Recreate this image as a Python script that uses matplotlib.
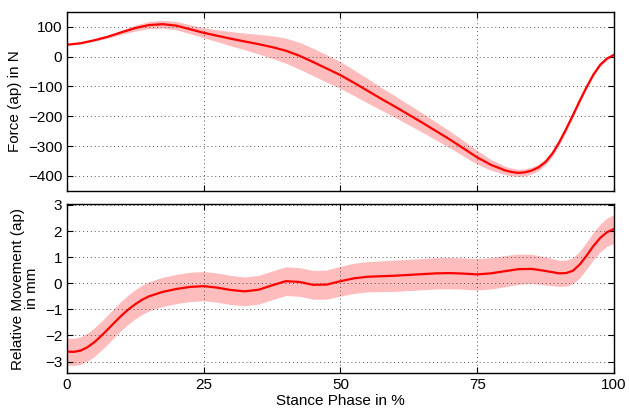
import numpy as np
import matplotlib.pyplot as plt

plt.rcParams['font.family'] = ['Liberation Sans', 'DejaVu Sans']

# force (ap): stance phase in %, mean and spread in N
force_phase = [0, 2.5, 5, 7.5, 10, 12.5, 15, 17.5, 20, 22.5, 25, 27.5, 30, 32.5, 35,
               37.5, 40, 42.5, 45, 47.5, 50, 52.5, 55, 57.5, 60, 62.5, 65, 67.5, 70,
               72.5, 75, 77.5, 80, 81.25, 82.5, 83.75, 85, 86.25, 87.5, 88.75, 90,
               91.25, 92.5, 93.75, 95, 96.25, 97.5, 98.75, 100]
force_mean = [40, 45, 55, 67, 82, 96, 106, 109, 104, 92, 80, 70, 60, 51, 42,
              32, 20, 3, -18, -40, -62, -88, -115, -142, -168, -195, -222, -250, -278,
              -308, -338, -363, -381, -387, -390, -388, -382, -371, -353, -325, -287,
              -243, -196, -148, -102, -60, -27, -6, 6]
force_sd = [2, 2, 3, 5, 7, 10, 12, 13, 14, 15, 17, 20, 24, 28, 33,
            38, 42, 45, 46, 46, 45, 43, 41, 38, 36, 34, 32, 30, 28,
            26, 23, 18, 14, 13, 12, 12, 11, 11, 10, 10, 9,
            9, 8, 7, 6, 6, 5, 5, 4]

# relative movement (ap): stance phase in %, mean and spread in mm
move_phase = [0, 1.25, 2.5, 3.75, 5, 6.25, 7.5, 8.75, 10, 11.25, 12.5, 13.75, 15, 17.5,
              20, 22.5, 25, 27.5, 30, 32.5, 35, 37.5, 40, 42.5, 45, 47.5, 50, 52.5,
              55, 57.5, 60, 62.5, 65, 67.5, 70, 72.5, 75, 77.5, 80, 82.5, 85, 87.5,
              90, 91.25, 92.5, 93.75, 95, 96.25, 97.5, 98.75, 100]
move_mean = [-2.62, -2.63, -2.58, -2.45, -2.26, -2.02, -1.76, -1.49, -1.23, -1.0,
             -0.8, -0.63, -0.5, -0.33, -0.22, -0.14, -0.11, -0.17, -0.26, -0.31,
             -0.25, -0.08, 0.08, 0.05, -0.06, -0.05, 0.08, 0.19, 0.25, 0.27, 0.29,
             0.32, 0.35, 0.38, 0.39, 0.37, 0.34, 0.38, 0.46, 0.54, 0.55, 0.47,
             0.38, 0.39, 0.48, 0.72, 1.06, 1.43, 1.74, 1.96, 2.08]
move_sd = [0.52, 0.52, 0.53, 0.54, 0.55, 0.55, 0.56, 0.56, 0.56, 0.56,
           0.56, 0.56, 0.56, 0.56, 0.56, 0.56, 0.56, 0.56, 0.56, 0.55,
           0.55, 0.55, 0.55, 0.55, 0.55, 0.56, 0.57, 0.58, 0.58, 0.59, 0.6,
           0.6, 0.6, 0.6, 0.6, 0.6, 0.6, 0.6, 0.6, 0.58, 0.56, 0.54,
           0.5, 0.5, 0.5, 0.51, 0.52, 0.52, 0.53, 0.54, 0.55]


def style(ax, yticks):
    ax.set_xlim(0, 100)
    ax.set_xticks([0, 25, 50, 75, 100])
    ax.set_yticks(yticks)
    ax.grid(True, linestyle=(0, (1, 3)), color='#555555', linewidth=0.7)
    ax.tick_params(direction='in', top=True, right=True, labelsize=11, length=4)
    for s in ax.spines.values():
        s.set_linewidth(1.0)


def main():
    fig = plt.figure(figsize=(6.29, 4.12), dpi=100)
    ax1 = fig.add_axes([0.1065, 0.537, 0.8696, 0.434])
    ax2 = fig.add_axes([0.1065, 0.094, 0.8696, 0.411])

    fx = np.array(force_phase)
    fm = np.array(force_mean)
    fs = np.array(force_sd)
    ax1.fill_between(fx, fm - fs, fm + fs, color='#ffbcbc', linewidth=0)
    ax1.plot(fx, fm, color='#ff0000', linewidth=1.6)
    style(ax1, [-400, -300, -200, -100, 0, 100])
    ax1.set_ylim(-450, 150)
    ax1.set_xticklabels([])
    ax1.set_ylabel('Force (ap) in N', fontsize=11)

    mx = np.array(move_phase)
    mm = np.array(move_mean)
    ms = np.array(move_sd)
    ax2.fill_between(mx, mm - ms, mm + ms, color='#ffbcbc', linewidth=0)
    ax2.plot(mx, mm, color='#ff0000', linewidth=1.6)
    style(ax2, [-3, -2, -1, 0, 1, 2, 3])
    ax2.set_ylim(-3.45, 3.04)
    ax2.set_ylabel('Relative Movement (ap)\nin mm', fontsize=11, linespacing=1.0)
    ax2.set_xlabel('Stance Phase in %', fontsize=11, labelpad=1)

    fig.savefig('out.png', dpi=100)


if __name__ == "__main__":
    main()
